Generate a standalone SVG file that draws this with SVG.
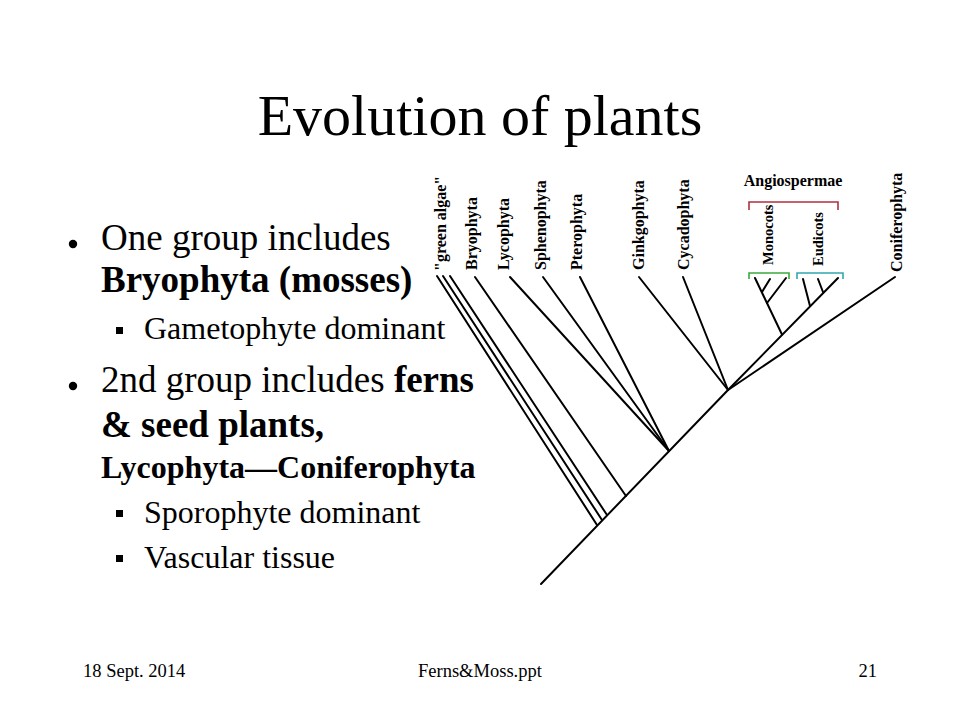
<svg xmlns="http://www.w3.org/2000/svg" width="960" height="720" viewBox="0 0 960 720">
<style>
  .t { font-family: "Liberation Serif", "Times New Roman", serif; fill: #000; }
  .b { font-weight: bold; }
  .l1 { font-size: 37px; }
  .l2 { font-size: 32px; }
  .lab { font-family: "Liberation Serif", "Times New Roman", serif; font-weight: bold; font-size: 16px; fill: #000; }
  .sm { font-size: 14.5px; }
  .foot { font-family: "Liberation Serif", "Times New Roman", serif; font-size: 18.5px; fill: #000; }
  .edge { stroke: #000; stroke-width: 2; fill: none; stroke-linecap: round; }
  .br { stroke-width: 1.6; fill: none; }
</style>
<rect width="960" height="720" fill="#fff"/>

<g id="title">
  <text class="t" x="480" y="135" font-size="58" text-anchor="middle">Evolution of plants</text>
</g>

<g id="bullets">
  <circle cx="73" cy="244" r="4.2" fill="#000"/>
  <text class="t l1" x="101" y="250">One group includes</text>
  <text class="t l1 b" x="101" y="292">Bryophyta (mosses)</text>
  <rect x="116" y="327" width="7" height="7" fill="#000"/>
  <text class="t l2" x="144" y="339">Gametophyte dominant</text>
  <circle cx="73" cy="386" r="4.2" fill="#000"/>
  <text class="t l1" x="101" y="392">2nd group includes <tspan class="b">ferns</tspan></text>
  <text class="t l1 b" x="101" y="437">&amp; seed plants,</text>
  <text class="t l2 b" x="101" y="478">Lycophyta—Coniferophyta</text>
  <rect x="116" y="510" width="7" height="7" fill="#000"/>
  <text class="t l2" x="144" y="523">Sporophyte dominant</text>
  <rect x="116" y="555" width="7" height="7" fill="#000"/>
  <text class="t l2" x="144" y="568">Vascular tissue</text>
</g>

<g id="connectors">
  <line class="edge" x1="541" y1="584" x2="728" y2="390"/>
  <line class="edge" x1="437" y1="276" x2="597" y2="525"/>
  <line class="edge" x1="443" y1="276" x2="602" y2="520"/>
  <line class="edge" x1="450" y1="276" x2="607" y2="515"/>
  <line class="edge" x1="475" y1="277" x2="626" y2="496"/>
  <line class="edge" x1="510" y1="277" x2="669" y2="451"/>
  <line class="edge" x1="543" y1="277" x2="669" y2="451"/>
  <line class="edge" x1="580" y1="277" x2="669" y2="451"/>
  <line class="edge" x1="639" y1="277" x2="728" y2="390"/>
  <line class="edge" x1="683" y1="277" x2="728" y2="390"/>
  <line class="edge" x1="728" y1="390" x2="895" y2="277"/>
  <line class="edge" x1="728" y1="390" x2="838" y2="278"/>
  <line class="edge" x1="782" y1="334.5" x2="755" y2="278"/>
  <line class="edge" x1="767" y1="303" x2="786" y2="278"/>
  <line class="edge" x1="762" y1="292" x2="770" y2="279"/>
  <line class="edge" x1="810" y1="306" x2="803" y2="279"/>
  <line class="edge" x1="823" y1="292" x2="818" y2="279"/>
</g>

<g id="brackets">
  <polyline class="br" stroke="#b0303c" points="749,210 749,202 838,202 838,210"/>
  <polyline class="br" stroke="#3aaa3a" points="749,279 749,273 789,273 789,279"/>
  <polyline class="br" stroke="#30a8b0" points="797,279 797,273 843,273 843,279"/>
</g>

<g id="node-green-algae"><text class="lab" transform="translate(446,271) rotate(-90)">"green algae"</text></g>
<g id="node-bryophyta"><text class="lab" transform="translate(477,270) rotate(-90)">Bryophyta</text></g>
<g id="node-lycophyta"><text class="lab" transform="translate(509,270) rotate(-90)">Lycophyta</text></g>
<g id="node-sphenophyta"><text class="lab" transform="translate(546,270) rotate(-90)">Sphenophyta</text></g>
<g id="node-pterophyta"><text class="lab" transform="translate(582,270) rotate(-90)">Pterophyta</text></g>
<g id="node-ginkgophyta"><text class="lab" transform="translate(644,270) rotate(-90)">Ginkgophyta</text></g>
<g id="node-cycadophyta"><text class="lab" transform="translate(689,270) rotate(-90)">Cycadophyta</text></g>
<g id="node-angiospermae"><text class="lab" x="793" y="186" text-anchor="middle">Angiospermae</text></g>
<g id="node-monocots"><text class="lab sm" transform="translate(773,265) rotate(-90)">Monocots</text></g>
<g id="node-eudicots"><text class="lab sm" transform="translate(823,266) rotate(-90)">Eudicots</text></g>
<g id="node-coniferophyta"><text class="lab" transform="translate(902,272) rotate(-90)">Coniferophyta</text></g>

<g id="footer">
  <text class="foot" x="83" y="677">18 Sept. 2014</text>
  <text class="foot" x="418" y="677">Ferns&amp;Moss.ppt</text>
  <text class="foot" x="877" y="677" text-anchor="end">21</text>
</g>
</svg>
